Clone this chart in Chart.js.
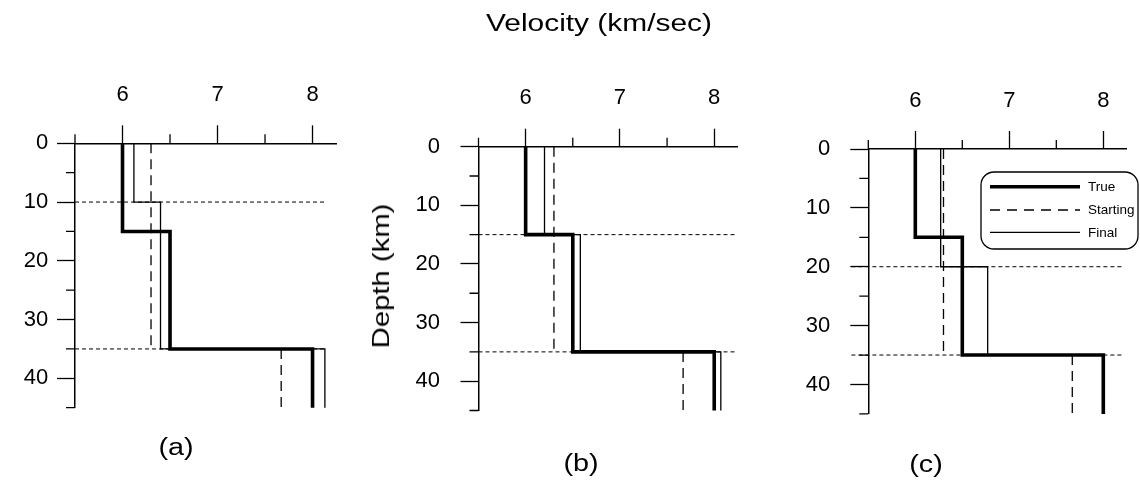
<!DOCTYPE html>
<html>
<head>
<meta charset="utf-8">
<script src="https://cdn.jsdelivr.net/npm/chart.js@4.4.1/dist/chart.umd.min.js"></script>
<style>
  html, body { margin: 0; padding: 0; background: #fff; }
  #page { position: relative; width: 1140px; height: 480px; overflow: hidden;
          font-family: "Liberation Sans", Arial, sans-serif; color: #000; }
  canvas { position: absolute; top: 0; }
  .txt { position: absolute; white-space: nowrap; line-height: 1; }
  #title { left: 599px; top: 12px; font-size: 23px; transform: translateX(-50%) scaleX(1.3); }
  #ylab { left: 381px; top: 275.5px; font-size: 24px; transform: translate(-50%, -50%) rotate(-90deg) scaleX(1.22); }
  .lab { font-size: 23px; transform: translateX(-50%) scaleX(1.25); }
</style>
</head>
<body>
<div id="page">
  <canvas id="pa" width="345" height="480" style="left:0px"></canvas>
  <canvas id="pb" width="380" height="480" style="left:360px"></canvas>
  <canvas id="pc" width="400" height="480" style="left:740px"></canvas>
  <div class="txt" id="title">Velocity (km/sec)</div>
  <div class="txt" id="ylab">Depth (km)</div>
  <div class="txt lab" style="left:176px; top:435.5px">(a)</div>
  <div class="txt lab" style="left:581px; top:451.5px">(b)</div>
  <div class="txt lab" style="left:926px; top:452.5px">(c)</div>
</div>
<script>
// axis ticks
const xMajor = [6, 7, 8];
const xMinor = [5.5, 6.5, 7.5];
const yMajor = [0, 10, 20, 30, 40];
const yMinor = [5, 15, 25, 35, 45];

// true model (same in all panels)
const trueBreaks = [0, 15, 35, 45];
const trueVel = [6.0, 6.5, 8.0];

// starting model (same in all panels)
const startBreaks = [0, 35, 45];
const startVel = [6.3, 7.67];

// final models, one per parameterisation
const finalBreaksA = [0, 10, 35, 45];
const finalVelA = [6.12, 6.4, 8.13];
const finalBreaksB = [0, 15, 35, 45];
const finalVelB = [6.2, 6.58, 8.07];
const finalBreaksC = [0, 20, 35, 45];
const finalVelC = [6.27, 6.77, 8.0];

// extent of the dotted layer-interface lines (velocity)
const interfaceSpanA = [5.5, 8.15];
const interfaceSpanB = [5.5, 8.22];
const interfaceSpanC = [5.32, 8.2];

const seriesNames = ['True', 'Starting', 'Final'];

const tickFont = { family: "'Liberation Sans', Arial, sans-serif", size: 22 };

function stepPoints(vel, breaks) {
    const pts = [];
    vel.forEach((v, i) => {
        pts.push({x: v, y: breaks[i]}, {x: v, y: breaks[i + 1]});
    });
    return pts;
}

const lineBase = {
    borderColor: '#000', pointRadius: 0, pointHoverRadius: 0, fill: false,
    showLine: true, tension: 0, clip: false,
    borderCapStyle: 'butt', borderJoinStyle: 'miter'
};

const styles = {
    True: {borderWidth: 3.6, borderDash: []},
    Starting: {borderWidth: 1.3, borderDash: [10, 6]},
    Final: {borderWidth: 1.3, borderDash: []},
    Interface: {borderWidth: 1, borderDash: [4, 3]}
};

function buildDatasets(finalVel, finalBreaks, span) {
    const sets = [];
    finalBreaks.slice(1, -1).forEach(z => {
        sets.push(Object.assign({}, lineBase, styles.Interface, {
            data: [{x: span[0], y: z}, {x: span[1], y: z}], order: 3
        }));
    });
    startVel.forEach((v, i) => {
        sets.push(Object.assign({}, lineBase, styles.Starting, {
            label: 'Starting',
            data: [{x: v, y: startBreaks[i]}, {x: v, y: startBreaks[i + 1]}], order: 2
        }));
    });
    sets.push(Object.assign({}, lineBase, styles.Final, {
        label: 'Final', data: stepPoints(finalVel, finalBreaks), order: 1
    }));
    sets.push(Object.assign({}, lineBase, styles.True, {
        label: 'True', data: stepPoints(trueVel, trueBreaks), order: 0
    }));
    return sets;
}

const minorTicks = {
    id: 'minorTicks',
    afterDraw(chart) {
        const {ctx, chartArea: a, scales: {x, y}} = chart;
        ctx.save();
        ctx.strokeStyle = '#000';
        ctx.lineWidth = 1.3;
        ctx.beginPath();
        xMinor.forEach(v => {
            const p = x.getPixelForValue(v);
            ctx.moveTo(p, a.top);
            ctx.lineTo(p, a.top - 9);
        });
        yMinor.forEach(v => {
            const p = y.getPixelForValue(v);
            ctx.moveTo(a.left, p);
            ctx.lineTo(a.left - 9, p);
        });
        ctx.stroke();
        ctx.restore();
    }
};

const legendBox = {
    id: 'legendBox',
    afterDraw(chart) {
        const ctx = chart.ctx;
        ctx.save();
        ctx.lineWidth = 1.3;
        ctx.strokeStyle = '#000';
        ctx.fillStyle = '#fff';
        ctx.beginPath();
        ctx.roundRect(241, 172, 157, 77, 13);
        ctx.fill();
        ctx.stroke();
        const rows = [186.7, 210, 232.3];
        seriesNames.forEach((name, i) => {
            const st = styles[name];
            ctx.beginPath();
            ctx.lineWidth = st.borderWidth;
            ctx.setLineDash(name === 'Starting' ? [10, 7] : []);
            ctx.moveTo(250, rows[i]);
            ctx.lineTo(340, rows[i]);
            ctx.stroke();
            ctx.setLineDash([]);
            ctx.fillStyle = '#000';
            ctx.font = "13.5px 'Liberation Sans Narrow', 'Arial Narrow', sans-serif";
            ctx.textBaseline = 'middle';
            ctx.fillText(name, 348, rows[i] + 0.5);
        });
        ctx.restore();
    }
};

const panels = [
    {id: 'pa', vel: finalVelA, breaks: finalBreaksA, span: interfaceSpanA,
     width: 345, top: 143.3, bottom: 407.7, axisLeft: 75, right: 336.3, xPad: 17, yPad: 8.7},
    {id: 'pb', vel: finalVelB, breaks: finalBreaksB, span: interfaceSpanB,
     width: 380, top: 146.7, bottom: 410.5, axisLeft: 118.5, right: 377.8, xPad: 18, yPad: 20.5},
    {id: 'pc', vel: finalVelC, breaks: finalBreaksC, span: interfaceSpanC,
     width: 400, top: 149, bottom: 413.9, axisLeft: 128.3, right: 386.8, xPad: 17, yPad: 20, legend: true}
];

panels.forEach(p => {
    new Chart(document.getElementById(p.id), {
        type: 'scatter',
        data: { datasets: buildDatasets(p.vel, p.breaks, p.span) },
        options: {
            responsive: false,
            animation: false,
            events: [],
            layout: { padding: { left: 0, top: 0, right: p.width - p.right, bottom: 480 - p.bottom } },
            plugins: { legend: { display: false }, tooltip: { enabled: false } },
            scales: {
                x: {
                    type: 'linear', position: 'top', min: 5.5, max: 8.25,
                    afterFit: s => { s.height = p.top; },
                    ticks: {
                        stepSize: 0.5, includeBounds: false, autoSkip: false, maxRotation: 0, padding: p.xPad,
                        color: '#000', font: tickFont,
                        callback: v => xMajor.includes(v) ? String(v) : ''
                    },
                    grid: {
                        drawOnChartArea: false, tickLength: 18, tickWidth: 1.3,
                        tickColor: c => xMajor.includes(c.tick.value) ? '#000' : 'rgba(0,0,0,0)'
                    },
                    border: { display: true, color: '#000', width: 1.5 }
                },
                y: {
                    type: 'linear', position: 'left', reverse: true, min: 0, max: 45,
                    afterFit: s => { s.width = p.axisLeft; },
                    ticks: {
                        stepSize: 5, autoSkip: false, padding: p.yPad,
                        color: '#000', font: tickFont,
                        callback: v => yMajor.includes(v) ? String(v) : ''
                    },
                    grid: {
                        drawOnChartArea: false, tickLength: 18, tickWidth: 1.3,
                        tickColor: c => yMajor.includes(c.tick.value) ? '#000' : 'rgba(0,0,0,0)'
                    },
                    border: { display: true, color: '#000', width: 1.5 }
                }
            }
        },
        plugins: p.legend ? [minorTicks, legendBox] : [minorTicks]
    });
});
</script>
</body>
</html>
